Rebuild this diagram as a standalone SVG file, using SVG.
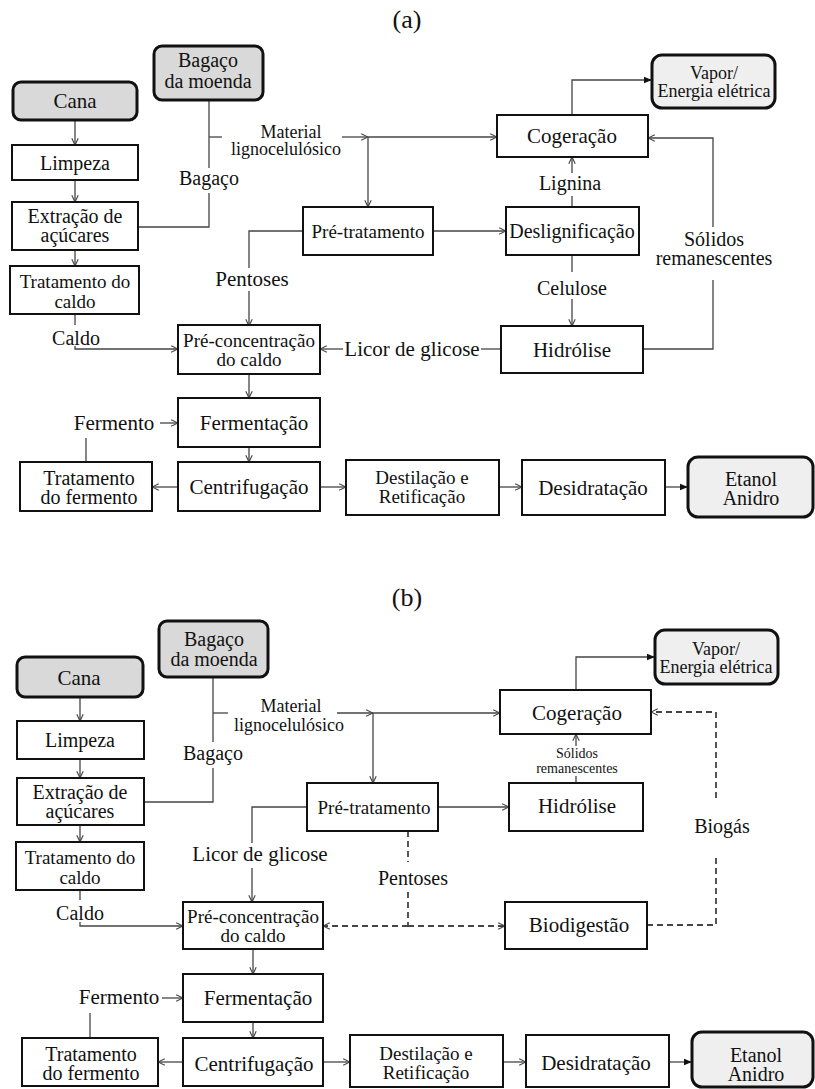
<svg xmlns="http://www.w3.org/2000/svg" width="815" height="1089" viewBox="0 0 815 1089" font-family="Liberation Serif, DejaVu Serif, serif">
<style>
.box{fill:#fff;stroke:#111;stroke-width:2}
.term{fill:#d9d9d9;stroke:#111;stroke-width:3}
.term2{fill:#efefef;stroke:#111;stroke-width:3}
.ln{fill:none;stroke:#444;stroke-width:1.3}
.oa{marker-end:url(#oa)}
.fa{marker-end:url(#fa)}
.dash{stroke-dasharray:6 4;stroke-width:1.8}
text{font-family:'Liberation Serif','DejaVu Serif',serif;font-size:20px;fill:#111;text-anchor:middle}
.s18{font-size:18px}
.s19{font-size:19px}
.s21{font-size:21px}
.s14{font-size:14px}
.ttl{font-size:26px}
</style>
<defs>
<marker id="oa" viewBox="0 0 10 10" refX="9.5" refY="5" markerWidth="8" markerHeight="8" markerUnits="userSpaceOnUse" orient="auto"><path d="M1,1 L9.5,5 L1,9" fill="none" stroke="#444" stroke-width="1.4"/></marker>
<marker id="fa" viewBox="0 0 10 10" refX="10" refY="5" markerWidth="8" markerHeight="8" markerUnits="userSpaceOnUse" orient="auto"><path d="M0,1 L10,5 L0,9 z" fill="#111"/></marker>
</defs>

<text class="ttl" x="407" y="28">(a)</text>
<text class="ttl" x="407" y="606">(b)</text>

<g id="connectors-a" class="ln">
<path class="oa" d="M75,120 V145"/>
<path class="oa" d="M75,180 V202"/>
<path class="oa" d="M75,250 V266"/>
<path d="M75,314 V325"/>
<path class="oa" d="M75,346 V349 H178"/>
<path d="M209,100 V168"/>
<path d="M209,193 V227 H138"/>
<path d="M209,137 H222"/>
<path class="oa" d="M342,137 H368"/>
<path class="oa" d="M368,137 H497"/>
<path class="oa" d="M368,137 V207"/>
<path class="oa" d="M433,231 H506"/>
<path d="M572,207 V196"/>
<path class="oa" d="M572,173 V157"/>
<path class="fa" d="M572,115 V80 H652"/>
<path d="M572,255 V272"/>
<path class="oa" d="M572,299 V326"/>
<path d="M643,349 H713 V280"/>
<path class="oa" d="M713,227 V138 H648"/>
<path d="M501,349 H481"/>
<path class="oa" d="M343,349 H320"/>
<path d="M303,231 H249 V268"/>
<path class="oa" d="M249,291 V326"/>
<path class="oa" d="M249,374 V398"/>
<path class="oa" d="M160,423 H178"/>
<path class="oa" d="M249,447 V462"/>
<path class="oa" d="M178,487 H152"/>
<path d="M86,462 V438"/>
<path class="oa" d="M320,487 H346"/>
<path class="oa" d="M499,487 H522"/>
<path class="fa" d="M665,487 H688"/>
</g>

<g id="a-cana"><rect class="term" x="13" y="82" width="124" height="38" rx="8"/><text class="s21" x="75" y="108">Cana</text></g>
<g id="a-bagaco-moenda"><rect class="term" x="154" y="46" width="109" height="54" rx="8"/><text x="208" y="67">Bagaço</text><text x="208" y="88">da moenda</text></g>
<g id="a-limpeza"><rect class="box" x="12" y="145" width="126" height="35"/><text x="75" y="170">Limpeza</text></g>
<g id="a-extracao"><rect class="box" x="12" y="202" width="126" height="48"/><text x="75" y="223">Extração de</text><text x="75" y="242">açúcares</text></g>
<g id="a-trat-caldo"><rect class="box" x="10" y="266" width="129" height="48"/><text class="s19" x="75" y="288">Tratamento do</text><text class="s19" x="75" y="308">caldo</text></g>
<g id="a-pre-conc"><rect class="box" x="178" y="325" width="142" height="49"/><text class="s19" x="249" y="347">Pré-concentração</text><text class="s19" x="249" y="366">do caldo</text></g>
<g id="a-fermentacao"><rect class="box" x="178" y="398" width="142" height="49"/><text class="s21" x="254" y="430">Fermentação</text></g>
<g id="a-centrifugacao"><rect class="box" x="178" y="462" width="142" height="49"/><text class="s21" x="249" y="494">Centrifugação</text></g>
<g id="a-trat-fermento"><rect class="box" x="20" y="462" width="132" height="49"/><text x="89" y="485">Tratamento</text><text x="89" y="504">do fermento</text></g>
<g id="a-destilacao"><rect class="box" x="346" y="460" width="153" height="55"/><text class="s19" x="422" y="484">Destilação e</text><text class="s19" x="422" y="503">Retificação</text></g>
<g id="a-desidratacao"><rect class="box" x="522" y="460" width="143" height="55"/><text class="s21" x="593" y="495">Desidratação</text></g>
<g id="a-etanol"><rect class="term2" x="688" y="457" width="125" height="60" rx="10"/><text x="751" y="486">Etanol</text><text x="751" y="505">Anidro</text></g>
<g id="a-pre-tratamento"><rect class="box" x="303" y="207" width="130" height="48"/><text class="s19" x="368" y="238">Pré-tratamento</text></g>
<g id="a-deslignificacao"><rect class="box" x="506" y="207" width="133" height="48"/><text x="572" y="238">Deslignificação</text></g>
<g id="a-cogeracao"><rect class="box" x="497" y="115" width="151" height="42"/><text class="s21" x="572" y="143">Cogeração</text></g>
<g id="a-vapor"><rect class="term2" x="652" y="55" width="123" height="53" rx="10"/><text class="s18" x="714" y="79">Vapor/</text><text class="s18" x="714" y="97">Energia elétrica</text></g>
<g id="a-hidrolise"><rect class="box" x="501" y="326" width="142" height="47"/><text class="s21" x="572" y="357">Hidrólise</text></g>

<g id="a-labels">
<text x="209" y="185">Bagaço</text>
<text class="s18" x="291" y="138">Material</text>
<text class="s18" x="286" y="155">lignocelulósico</text>
<text x="570" y="190">Lignina</text>
<text x="572" y="295">Celulose</text>
<text x="714" y="246">Sólidos</text>
<text x="714" y="265">remanescentes</text>
<text class="s21" x="412" y="356">Licor de glicose</text>
<text class="s21" x="252" y="286">Pentoses</text>
<text x="76" y="345">Caldo</text>
<text class="s21" x="114" y="430">Fermento</text>
</g>

<g id="connectors-b" class="ln">
<path class="oa" d="M80,697 V721"/>
<path class="oa" d="M80,759 V778"/>
<path class="oa" d="M80,825 V842"/>
<path d="M80,890 V900"/>
<path class="oa" d="M80,922 V926 H183"/>
<path d="M213,677 V742"/>
<path d="M213,768 V802 H144"/>
<path d="M213,713 H228"/>
<path class="oa" d="M337,713 H373"/>
<path class="oa" d="M373,713 H500"/>
<path class="oa" d="M373,713 V783"/>
<path class="oa" d="M438,807 H509"/>
<path d="M576,783 V776"/>
<path class="oa" d="M576,746 V734"/>
<path class="fa" d="M576,690 V657 H655"/>
<path d="M307,807 H252 V843"/>
<path class="oa" d="M252,868 V902"/>
<path class="dash" d="M408,831 V862"/>
<path class="dash" d="M408,892 V926"/>
<path class="dash oa" d="M408,926 H323"/>
<path class="dash oa" d="M408,926 H505"/>
<path class="dash" d="M647,925 H716 V855"/>
<path class="dash oa" d="M716,798 V712 H651"/>
<path class="oa" d="M253,949 V974"/>
<path class="oa" d="M162,998 H183"/>
<path class="oa" d="M253,1022 V1038"/>
<path class="oa" d="M183,1062 H158"/>
<path d="M90,1038 V1013"/>
<path class="oa" d="M323,1062 H350"/>
<path class="oa" d="M503,1062 H526"/>
<path class="fa" d="M669,1062 H692"/>
</g>

<g id="b-cana"><rect class="term" x="17" y="657" width="126" height="40" rx="8"/><text class="s21" x="79" y="685">Cana</text></g>
<g id="b-bagaco-moenda"><rect class="term" x="159" y="621" width="109" height="56" rx="8"/><text x="214" y="646">Bagaço</text><text x="214" y="666">da moenda</text></g>
<g id="b-limpeza"><rect class="box" x="17" y="721" width="127" height="38"/><text x="80" y="747">Limpeza</text></g>
<g id="b-extracao"><rect class="box" x="17" y="778" width="127" height="47"/><text x="80" y="799">Extração de</text><text x="80" y="818">açúcares</text></g>
<g id="b-trat-caldo"><rect class="box" x="16" y="842" width="128" height="48"/><text class="s19" x="80" y="864">Tratamento do</text><text class="s19" x="80" y="884">caldo</text></g>
<g id="b-pre-conc"><rect class="box" x="183" y="902" width="140" height="47"/><text class="s19" x="253" y="923">Pré-concentração</text><text class="s19" x="253" y="942">do caldo</text></g>
<g id="b-fermentacao"><rect class="box" x="183" y="974" width="140" height="48"/><text class="s21" x="258" y="1005">Fermentação</text></g>
<g id="b-centrifugacao"><rect class="box" x="183" y="1038" width="140" height="48"/><text class="s21" x="254" y="1071">Centrifugação</text></g>
<g id="b-trat-fermento"><rect class="box" x="22" y="1038" width="136" height="48"/><text x="91" y="1061">Tratamento</text><text x="91" y="1080">do fermento</text></g>
<g id="b-destilacao"><rect class="box" x="350" y="1035" width="153" height="52"/><text class="s19" x="426" y="1060">Destilação e</text><text class="s19" x="426" y="1079">Retificação</text></g>
<g id="b-desidratacao"><rect class="box" x="526" y="1035" width="143" height="52"/><text class="s21" x="596" y="1070">Desidratação</text></g>
<g id="b-etanol"><rect class="term2" x="692" y="1032" width="121" height="55" rx="10"/><text x="756" y="1062">Etanol</text><text x="756" y="1081">Anidro</text></g>
<g id="b-pre-tratamento"><rect class="box" x="307" y="783" width="131" height="48"/><text class="s19" x="374" y="814">Pré-tratamento</text></g>
<g id="b-hidrolise"><rect class="box" x="509" y="783" width="134" height="48"/><text class="s21" x="577" y="813">Hidrólise</text></g>
<g id="b-cogeracao"><rect class="box" x="500" y="690" width="151" height="44"/><text class="s21" x="577" y="720">Cogeração</text></g>
<g id="b-vapor"><rect class="term2" x="655" y="630" width="123" height="54" rx="10"/><text class="s18" x="716" y="655">Vapor/</text><text class="s18" x="716" y="673">Energia elétrica</text></g>
<g id="b-biodigestao"><rect class="box" x="505" y="902" width="142" height="47"/><text class="s21" x="579" y="932">Biodigestão</text></g>

<g id="b-labels">
<text x="213" y="760">Bagaço</text>
<text class="s18" x="291" y="712">Material</text>
<text class="s18" x="289" y="731">lignocelulósico</text>
<text class="s14" x="577" y="758">Sólidos</text>
<text class="s14" x="577" y="773">remanescentes</text>
<text class="s21" x="260" y="861">Licor de glicose</text>
<text x="413" y="885">Pentoses</text>
<text x="722" y="833">Biogás</text>
<text x="80" y="920">Caldo</text>
<text class="s21" x="119" y="1004">Fermento</text>
</g>
</svg>
